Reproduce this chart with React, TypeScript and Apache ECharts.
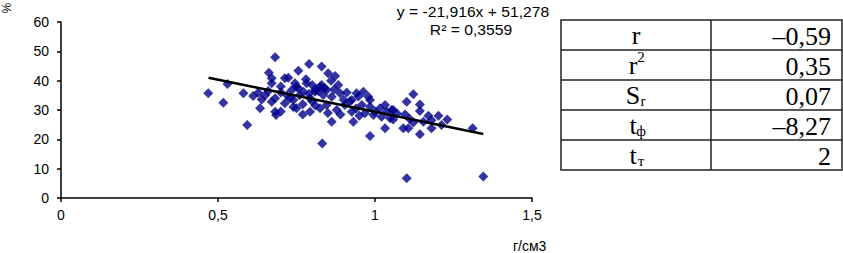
import React, { useEffect, useRef } from "react";
import * as echarts from "echarts";

// density (g/cm3) vs percent
const densityX = [
  0.469, 0.53, 0.517, 0.581, 0.593, 0.612, 0.628, 0.639, 0.634, 0.662, 0.671, 0.671, 0.682, 0.682, 0.671,
  0.682, 0.685, 0.713, 0.724, 0.713, 0.729, 0.75, 0.745, 0.756, 0.735, 0.756, 0.79, 0.83, 0.851, 0.873,
  0.782, 0.825, 0.846, 0.883, 0.75, 0.772, 0.809, 0.835, 0.862, 0.889, 0.74, 0.793, 0.793, 0.825, 0.846,
  0.878, 0.904, 0.926, 0.931, 0.862, 0.832, 0.947, 0.963, 0.984, 0.958, 0.984, 0.968, 0.995, 1.016, 1.032,
  1.037, 1.021, 1.048, 1.058, 1.032, 0.984, 1.122, 1.101, 1.143, 1.143, 1.053, 1.096, 1.058, 1.17, 1.202,
  1.122, 1.154, 1.09, 1.106, 1.18, 1.212, 1.143, 1.311, 1.101, 1.345,
  0.8, 0.81, 0.82, 0.83, 0.84, 0.79, 0.8, 0.77, 0.76, 0.7, 0.7, 0.72, 0.74, 0.78, 0.86, 0.87, 0.9, 0.91,
  0.92, 0.94, 0.89, 0.85, 0.81, 0.77, 0.7, 0.66, 0.65, 0.95, 1.0, 1.07, 1.11, 1.18, 1.23, 0.941, 0.926, 0.979,
];
const percentY = [
  35.7, 38.9, 32.5, 35.7, 24.9, 34.8, 35.9, 33.6, 30.6, 42.7, 40.8, 39.1, 48.0, 34.0, 32.8,
  29.4, 28.3, 40.8, 41.0, 32.3, 34.0, 30.6, 39.1, 37.4, 36.8, 43.4, 45.7, 44.8, 42.5, 41.6,
  39.1, 37.9, 36.8, 38.5, 37.9, 36.2, 36.2, 35.1, 34.5, 35.7, 33.4, 34.0, 29.4, 30.6, 31.7,
  30.0, 31.7, 29.4, 26.0, 26.0, 18.6, 34.6, 36.2, 33.4, 31.7, 31.1, 28.9, 28.3, 30.6, 31.7,
  29.4, 27.7, 27.2, 30.0, 23.8, 21.1, 35.4, 32.8, 31.9, 29.7, 30.0, 28.5, 26.8, 28.0, 28.0,
  25.7, 26.0, 23.8, 23.8, 23.8, 24.9, 21.7, 23.8, 6.7, 7.3,
  38.5, 37.0, 36.5, 38.5, 37.5, 35.5, 33.0, 32.0, 35.0, 38.0, 36.0, 35.0, 31.0, 40.5, 40.0, 37.0, 33.5, 36.0,
  33.0, 30.5, 28.5, 29.0, 31.5, 28.5, 29.5, 36.5, 35.0, 28.0, 29.5, 28.8, 27.0, 26.5, 26.8, 35.7, 33.4, 34.5,
];

const trendX = [0.47, 1.345];
const trendY = [41.0, 21.8];

const equationText = "y = -21,916x + 51,278";
const r2Text = "R² = 0,3559";
const xAxisName = "г/см3";
const yAxisName = "%";

const rowMain = ["r", "r", "S", "t", "t"];
const rowSup = ["", "2", "", "", ""];
const rowSub = ["", "", "r", "ф", "т"];
const rowValue = ["–0,59", "0,35", "0,07", "–8,27", "2"];

export default function App() {
  const ref = useRef<HTMLDivElement>(null);
  useEffect(() => {
    document.body.style.margin = "0";
    if (!ref.current) return;
    const chart = echarts.init(ref.current, undefined, { renderer: "svg" });

    const serif = '"Liberation Serif", "Times New Roman", serif';
    const sans = '"Liberation Sans", Arial, sans-serif';
    const tX = 561, tY = 20, tW = 281, rowH = 30, divX = 711;
    const graphic: any[] = [];
    graphic.push({
      type: "rect",
      shape: { x: tX, y: tY, width: tW, height: rowH * rowMain.length },
      style: { fill: "none", stroke: "#222", lineWidth: 1.5 },
    });
    for (let i = 1; i < rowMain.length; i++) {
      graphic.push({
        type: "line",
        shape: { x1: tX, y1: tY + i * rowH, x2: tX + tW, y2: tY + i * rowH },
        style: { stroke: "#222", lineWidth: 1.5 },
      });
    }
    graphic.push({
      type: "line",
      shape: { x1: divX, y1: tY, x2: divX, y2: tY + rowH * rowMain.length },
      style: { stroke: "#222", lineWidth: 1.5 },
    });
    rowMain.forEach((m, i) => {
      const cy = tY + i * rowH + rowH / 2;
      const hasExtra = rowSub[i] || rowSup[i];
      const mx = hasExtra ? 633 : 636;
      const subOffset = m === "S" ? 10 : 8;
      graphic.push({
        type: "text",
        style: { text: m, x: mx, y: cy, font: `26px ${serif}`, fill: "#000", align: "center", verticalAlign: "middle" },
      });
      if (rowSup[i]) {
        graphic.push({
          type: "text",
          style: { text: rowSup[i], x: mx + 8, y: cy - 8, font: `15px ${serif}`, fill: "#000", align: "center", verticalAlign: "middle" },
        });
      }
      if (rowSub[i]) {
        graphic.push({
          type: "text",
          style: { text: rowSub[i], x: mx + subOffset, y: cy + 6, font: `15px ${serif}`, fill: "#000", align: "center", verticalAlign: "middle" },
        });
      }
      graphic.push({
        type: "text",
        style: { text: rowValue[i], x: 831, y: cy + 1, font: `26px ${serif}`, fill: "#000", align: "right", verticalAlign: "middle" },
      });
    });
    graphic.push({
      type: "text",
      style: { text: equationText, x: 473, y: 12, font: `14px ${sans}`, fill: "#000", align: "center", verticalAlign: "middle" },
      scaleX: 1.12, originX: 473,
    });
    graphic.push({
      type: "text",
      style: { text: r2Text, x: 471, y: 30, font: `14px ${sans}`, fill: "#000", align: "center", verticalAlign: "middle" },
      scaleX: 1.12, originX: 471,
    });
    graphic.push({
      type: "text",
      style: { text: xAxisName, x: 513, y: 246, font: `14px ${sans}`, fill: "#000", align: "left", verticalAlign: "middle" },
    });
    graphic.push({
      type: "text",
      x: 6, y: 8, rotation: -Math.PI / 2,
      style: { text: yAxisName, x: 0, y: 0, font: `12px ${sans}`, fill: "#000", align: "center", verticalAlign: "middle" },
    });

    chart.setOption({
      animation: false,
      backgroundColor: "#fff",
      grid: { left: 61, right: 311, top: 22, bottom: 55, containLabel: false },
      xAxis: {
        type: "value", min: 0, max: 1.5, interval: 0.5,
        axisLine: { show: true, lineStyle: { color: "#000", width: 1.5 } },
        axisTick: { show: true, length: 4, lineStyle: { color: "#000", width: 1.5 } },
        axisLabel: { color: "#000", fontSize: 14, fontFamily: sans, margin: 10, formatter: (v: number) => String(v).replace(".", ",") },
        splitLine: { show: false },
      },
      yAxis: {
        type: "value", min: 0, max: 60, interval: 10,
        axisLine: { show: true, lineStyle: { color: "#000", width: 1.5 } },
        axisTick: { show: true, length: 4, lineStyle: { color: "#000", width: 1.5 } },
        axisLabel: { color: "#000", fontSize: 14, fontFamily: sans, margin: 12 },
        splitLine: { show: false },
      },
      series: [
        {
          type: "scatter",
          symbol: "diamond",
          symbolSize: 10,
          itemStyle: { color: "#00008B" },
          data: densityX.map((x, i) => [x, percentY[i]]),
          z: 2,
        },
        {
          type: "line",
          data: trendX.map((x, i) => [x, trendY[i]]),
          symbol: "none",
          lineStyle: { color: "#000", width: 2.5 },
          z: 3,
        },
      ],
      graphic,
    });
    return () => chart.dispose();
  }, []);
  return <div ref={ref} style={{ width: 843, height: 253 }} />;
}
